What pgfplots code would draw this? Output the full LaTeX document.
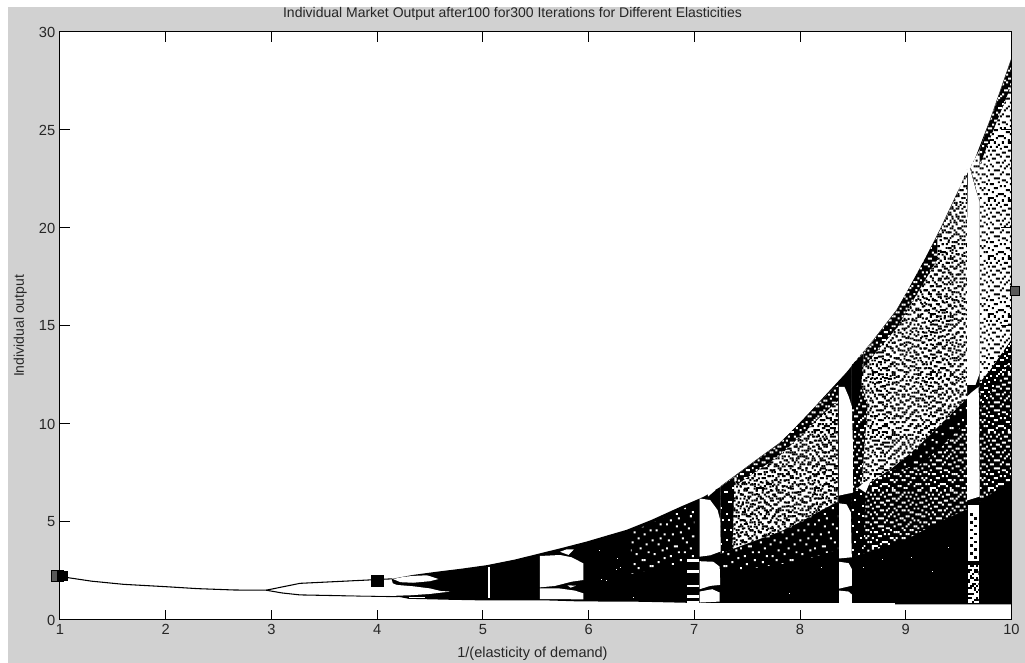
\documentclass[border=0pt]{standalone}
\usepackage{fontspec}
\setmainfont{Liberation Sans}
\usepackage{pgfplots}
\usepackage{pgfplotstable}
\usetikzlibrary{patterns}
\pgfplotsset{compat=1.18}
\definecolor{figgray}{gray}{0.82}
\newcommand\tile[1]{\foreach \r/\L in {#1}{\foreach \c in \L {\pgfpathrectangle{\pgfpoint{\c*1.5pt}{\r*1.5pt}}{\pgfqpoint{1.5pt}{1.5pt}}\pgfusepath{fill}}}}
\pgfdeclarepatternformonly{speckA}{\pgfpointorigin}{\pgfqpoint{43.5pt}{43.5pt}}{\pgfqpoint{43.5pt}{43.5pt}}{\tile{0/{1,2,3,11,17,18,26},1/{5,9,14,15,22},2/{0,6,7,8,19,23,24,25,28},3/{3,12,20},4/{1,10,11,13,16,17,27},5/{4,5,21,22,26,28},6/{7,9,15,18,19},7/{0,2,3,12,13,14,23,25},8/{6,10,17,20,21,27,28},9/{1,8,9,16,24},10/{4,5,6,12,18,22,23,26},11/{0,14,15,19},12/{2,3,7,10,11,20,25,27,28},13/{8,13,17,22,24},14/{1,4,5,6,15,16,21},15/{9,12,18,19,26,27},16/{0,3,7,10,14,23,24,25},17/{2,11,20,21,28},18/{5,6,8,13,16,17,19,26},19/{1,9,12,22,24},20/{3,4,14,15,18,27,28},21/{0,7,10,11,20,23},22/{2,5,6,16,17,21,25,26},23/{8,9,13,19,28},24/{1,3,4,11,12,14,22,24},25/{7,15,18,20,26,27},26/{0,2,5,9,10,16,23},27/{6,13,14,17,19,21,28},28/{1,4,8,11,12,24,25}}}
\pgfdeclarepatternformonly{speckB}{\pgfpointorigin}{\pgfqpoint{34.5pt}{34.5pt}}{\pgfqpoint{34.5pt}{34.5pt}}{\tile{0/{4,5,13,20},1/{0,9,16,17},2/{2,3,7,11,21},3/{14,18},4/{1,5,6,10,19,22},5/{8,12,15},6/{3,4,16,20,21},7/{0,9,10,17},8/{6,13,14,18,22},9/{2,5,11},10/{7,8,15,16,19,20},11/{1,3,12,21},12/{5,9,10,14},13/{0,6,17,18,22},14/{4,11,12,15,20},15/{2,3,8,19},16/{6,7,13,16,21,22},17/{1,10,18},18/{4,5,9,14,15,20},19/{0,2,12,17},20/{7,8,11,19,21},21/{3,6,13,16,22},22/{1,9,10,15,18}}}
\pgfdeclarepatternformonly{speckC}{\pgfpointorigin}{\pgfqpoint{55.5pt}{55.5pt}}{\pgfqpoint{55.5pt}{55.5pt}}{\tile{0/{5,22,30},1/{13},2/{2,18,19,34},3/{9,27},4/{15,24,36},5/{1,6},6/{12,31,32},7/{20},8/{4,10,26,35},9/{17},10/{0,8,23},11/{14,29,30},12/{3,21},13/{11,33},14/{7,18,25,26},15/{36},16/{2,13,16},17/{22,31},18/{6,9,28},19/{19,35},20/{0,12,24},21/{4,5},22/{15,27,33},23/{10,20},24/{1,17,30},25/{8,23,34},26/{13,14},27/{3,26,36},28/{7,21},29/{16,29,32},30/{11},31/{5,19,25},32/{0,9,34},33/{14,22},34/{2,28,31},35/{6,18},36/{12,24,35}}}
\pgfplotsset{
 poly/.style={draw=none,fill=#1,forget plot},
 pat/.style 2 args={draw=none,pattern=#1,pattern color=#2,forget plot},
 dots/.style={only marks,mark=square*,mark size=0.6pt,mark options={draw=none,fill=#1},forget plot},
}
\pgfplotstableread{
7.25 3.4
7.4 3.7
7.59 4.08
7.81 4.51
8 5
8.2 5.6
8.36 6.05
8.36 12.0
8.2 11.2
8 10
7.81 9.02
7.59 8.16
7.4 7.4
7.25 6.8
}\zoneUa
\pgfplotstableread{
7.25 2.4
8 3.0
8.36 3.6
8.36 6.05
8.2 5.6
8 5
7.81 4.51
7.59 4.08
7.4 3.7
7.25 3.4
}\zoneMa
\pgfplotstableread{
8.49 6.5
8.7 7.15
8.915 7.9
9.1 8.75
9.326 9.95
9.58 11.3
9.58 23
9.5 21.9
9.326 19.9
9.1 17.5
8.915 15.8
8.7 14.3
8.49 13
}\zoneUb
\pgfplotstableread{
8.49 3.2
9 4.1
9.3 4.97
9.58 5.65
9.58 11.3
9.326 9.95
9.1 8.75
8.915 7.9
8.7 7.15
8.49 6.5
}\zoneMb
\pgfplotstableread{
9.7 12.1
9.8 12.75
10 14.3
10 28.6
9.8 25.5
9.7 24
9.61 23.1
9.7 21.3
}\zoneUc
\pgfplotstableread{
9.7 6.05
10 7.15
10 14.3
9.8 12.75
9.7 12.1
}\zoneMc
\pgfplotstableread{
6.4 2.35
6.87 2.89
7.0 3.05
7.0 5.95
6.87 5.6
6.6 4.95
6.4 4.5
}\zoneEarly
\pgfplotstableread{
8.85 7.65
9.1 8.75
9.326 9.95
9.58 11.3
9.58 10.2
9.35 8.9
9.1 7.8
}\stripMid
\pgfplotstableread{
9.7 12.1
9.8 12.75
10 14.3
10 13.4
9.85 12.0
9.72 10.8
}\stripMidc
\pgfplotstableread{
8.49 13
8.6 13.6
8.58 12
8.55 11
8.49 10.9
}\stripWedge
\pgfplotstableread{
8.49 6.5
8.58 6.8
8.64 11
8.58 12
8.49 10.9
}\stripLeftb
\pgfplotstableread{
8.49 3.2
8.6 3.4
8.62 6.9
8.49 6.5
}\stripLeftm
\pgfplotstableread{
8.6 13.6
8.915 15.8
9.3 19.6
9.3 18.4
8.915 14.9
8.6 12.9
}\stripTopb
\pgfplotstableread{
9.7 24
9.8 25.5
10 28.6
10 27.3
9.8 24.6
9.7 23.2
}\stripTopc
\pgfplotstableread{
7.4 7.4
7.81 9.02
8.2 11.2
8.36 12
8.36 11.2
8.2 10.4
7.81 8.4
7.4 6.9
}\stripTopa
\pgfplotstableread{
7.25 3.4
7.36 3.6
7.38 7.3
7.25 6.8
}\stripLeft
\pgfplotstableread{
9.59 0.85
9.59 2.8
9.69 2.8
9.69 0.85
}\winLow
\begin{document}
\begin{tikzpicture}
\useasboundingbox (-45pt,-32.25pt) rectangle (723.75pt,465pt);
\fill[white] (-45pt,-32.25pt) rectangle (723.75pt,465pt);
\fill[figgray] (-39pt,-32.25pt) rectangle (723.75pt,459.75pt);
\begin{axis}[
 at={(0pt,0pt)},anchor=origin,
 scale only axis,width=713.6pt,height=441pt,
 xmin=1,xmax=10,ymin=0,ymax=30,
 clip=false,axis on top,
 axis background/.style={fill=white},
 axis line style={line width=0.75pt},
 xtick={1,...,10},ytick={0,5,...,30},
 tick style={black,line width=0.75pt},
 major tick length=7.5pt,
 tick align=inside,
 xtick pos=both,ytick pos=both,
 xticklabel pos=lower,yticklabel pos=left,
 /pgf/number format/assume math mode=true,
 tick label style={font=\fontsize{11}{13}\selectfont,text=black!85},
 title={Individual Market Output after100 for300 Iterations for Different Elasticities},
 title style={font=\fontsize{10.5}{12}\selectfont,at={(axis description cs:0.4756,1)},anchor=base,yshift=4.5pt,text=black!85},
 xlabel={1/(elasticity of demand)},
 xlabel style={font=\fontsize{10.9}{13}\selectfont,at={(axis description cs:0.4966,0)},anchor=base,yshift=-28.25pt,text=black!85},
 ylabel={Individual output},
 ylabel style={font=\fontsize{10.5}{12}\selectfont,at={(axis description cs:0,0.5)},anchor=base,yshift=27pt,text=black!85},
]
% period-1 and period-2 lines
\addplot[black,line width=0.8pt,forget plot] coordinates {(1,2.22)(1.3,1.98)(1.6,1.82)(2,1.70)(2.3,1.6)(2.65,1.53)(2.95,1.52)(3.27,1.87)(3.65,1.97)(4.14,2.1)};
\addplot[black,line width=0.8pt,forget plot] coordinates {(2.95,1.52)(3.1,1.38)(3.27,1.28)(3.65,1.24)(4.2,1.19)};
% chaotic envelope, solid
\addplot[poly=black] coordinates {(4.14,2.1)(4.34,2.3)(4.56,2.46)(4.8,2.62)(5.04,2.8)(5.3,3.08)(5.54,3.4)(5.75,3.68)(5.98,4)(6.2,4.35)(6.36,4.6)(6.6,5.12)(6.87,5.78)(7.09,6.29)(7.25,6.8)(7.4,7.4)(7.59,8.16)(7.81,9.02)(8,10)(8.2,11.2)(8.44,12.6)(8.7,14.3)(8.915,15.8)(9.1,17.5)(9.326,19.9)(9.5,21.9)(9.65,23.4)(9.8,25.5)(10,28.6)(10,0.8)(8.9,0.8)(8.9,0.87)(7,0.87)(6.5,0.93)(5.9,0.95)(5.6,1.0)(5.0,1.0)(4.7,1.03)(4.3,1.08)(4.185,1.2)(4.14,2.03)};
\addplot[black,line width=0.75pt,forget plot] coordinates {(7.25,6.8)(7.4,7.4)(7.59,8.16)(7.81,9.02)(8,10)(8.2,11.2)(8.44,12.6)(8.7,14.3)(8.915,15.8)(9.1,17.5)(9.326,19.9)(9.5,21.9)(9.65,23.4)(9.8,25.5)(10,28.6)};
% white lobes of the doubling cascade
\addplot[poly=white] coordinates {(3.65,1.93)(4.1,1.97)(4.185,1.79)(4.34,1.72)(4.5,1.61)(4.6,1.48)(4.69,1.45)(4.5,1.33)(4.31,1.26)(4.185,1.24)(3.65,1.27)};
\addplot[poly=white] coordinates {(4.15,2.09)(4.25,2.2)(4.34,2.25)(4.47,2.28)(4.52,2.2)(4.58,2.09)(4.5,1.98)(4.34,1.9)(4.22,1.93)};
\addplot[poly=white] coordinates {(4.3,1.17)(4.45,1.17)(4.45,1.12)(4.3,1.12)};
% speckled zones
\addplot[pat={speckC}{white}] table {\zoneEarly};
\addplot[pat={speckC}{white}] table {\zoneMa};
\addplot[poly=white] table {\zoneUa};
\addplot[pat={speckA}{black}] table {\zoneUa};
\addplot[pat={speckB}{black}] table {\zoneUa};
\addplot[pat={speckC}{black}] table {\zoneUa};
\addplot[pat={speckA}{white}] table {\zoneMb};
\addplot[poly=white] table {\zoneUb};
\addplot[pat={speckA}{black}] table {\zoneUb};
\addplot[pat={speckB}{black}] table {\zoneUb};
\addplot[pat={speckA}{white}] table {\zoneMc};
\addplot[poly=white] table {\zoneUc};
\addplot[pat={speckA}{black}] table {\zoneUc};
% darker strips
\addplot[poly=black] table {\stripMid};
\addplot[pat={speckC}{white}] table {\stripMid};
\addplot[poly=black] table {\stripMidc};
\addplot[pat={speckB}{white}] table {\stripMidc};
\addplot[poly=black] table {\stripLeftb};
\addplot[pat={speckB}{white}] table {\stripLeftb};
\addplot[poly=black] table {\stripLeftm};
\addplot[pat={speckC}{white}] table {\stripLeftm};
\addplot[poly=black] table {\stripWedge};
\addplot[poly=black] table {\stripTopb};
\addplot[pat={speckB}{white}] table {\stripTopb};
\addplot[poly=black] table {\stripTopc};
\addplot[pat={speckB}{white}] table {\stripTopc};
\addplot[poly=black] table {\stripTopa};
\addplot[pat={speckB}{white}] table {\stripTopa};
\addplot[poly=black] table {\stripLeft};
\addplot[pat={speckC}{white}] table {\stripLeft};
% windows
\addplot[poly=white] coordinates {(5.54,3.265)(5.73,3.316)(5.84,3.197)(5.95,2.89)(5.95,2.04)(5.84,1.956)(5.68,1.735)(5.54,1.667)};
\addplot[poly=white] coordinates {(5.54,1.616)(5.715,1.616)(5.873,1.497)(5.95,1.36)(5.95,1.054)(5.54,1.07)};
\addplot[poly=white] coordinates {(5.73,3.48)(5.79,3.6)(5.86,3.6)(5.81,3.32)};
\addplot[poly=white] coordinates {(5.8,1.77)(5.88,1.75)(5.83,1.65)};
\addplot[poly=white] coordinates {(5.045,1.1)(5.065,1.1)(5.065,2.72)(5.045,2.72)};
\addplot[poly=white] coordinates {(7.05,3.23)(7.05,6.2)(7.15,6.12)(7.22,5.61)(7.245,5.1)(7.25,3.5)(7.15,3.3)};
\addplot[poly=white] coordinates {(7.13,6.3)(7.2,6.62)(7.12,6.62)};
\addplot[poly=white] coordinates {(7.05,1.57)(7.05,3.0)(7.18,2.97)(7.24,2.72)(7.245,1.79)(7.15,1.74)};
\addplot[poly=white] coordinates {(7.05,0.89)(7.05,1.45)(7.17,1.57)(7.24,1.4)(7.24,0.94)};
\addplot[poly=white] coordinates {(6.93,2.95)(7.04,2.95)(7.04,3.09)(6.93,3.09)};
\addplot[poly=white] coordinates {(6.93,2.4)(7.04,2.4)(7.04,2.55)(6.93,2.55)};
\addplot[poly=white] coordinates {(6.93,1.7)(7.04,1.7)(7.04,1.77)(6.93,1.77)};
\addplot[poly=white] coordinates {(6.93,1.1)(7.04,1.1)(7.04,1.3)(6.93,1.3)};
\addplot[poly=white] coordinates {(6.93,0.87)(7.04,0.87)(7.04,0.95)(6.93,0.95)};
\addplot[poly=white] coordinates {(8.37,6.35)(8.37,11.9)(8.42,11.9)(8.46,11.4)(8.49,10.9)(8.5,9)(8.5,6.5)};
\addplot[poly=white] coordinates {(8.55,6.75)(8.6,7.0)(8.67,7.15)(8.62,6.5)};
\addplot[poly=white] coordinates {(8.37,3.14)(8.37,5.95)(8.44,5.9)(8.48,5.5)(8.49,3.2)};
\addplot[poly=white] coordinates {(8.37,1.6)(8.37,2.97)(8.46,2.9)(8.49,2.6)(8.49,1.75)};
\addplot[poly=white] coordinates {(8.37,0.87)(8.37,1.5)(8.46,1.45)(8.49,1.3)(8.49,0.87)};
\addplot[poly=white] coordinates {(9.58,12.0)(9.58,20)(9.59,23)(9.61,23)(9.66,22)(9.7,21.3)(9.7,12.6)(9.66,12.0)};
\addplot[poly=white] coordinates {(9.58,6.1)(9.58,11.4)(9.62,11.6)(9.69,11.9)(9.7,6.3)};
\addplot[poly=white] coordinates {(9.59,3)(9.59,5.87)(9.69,5.87)(9.69,3)};
\addplot[poly=white] table {\winLow};
\addplot[pat={speckA}{black}] table {\winLow};
\addplot[pat={speckB}{black}] table {\winLow};
% white specks
\addplot[dots=white] table[row sep=crcr]{6.0 2.1\\6.03 2.15\\6.06 2.05\\6.09 2.2\\6.12 2.08\\6.17 2.04\\6.2 2.04\\6.22 3.3\\6.27 3.15\\6.2 2.6\\6.26 2.58\\6.3 2.7\\6.1 3.55\\4.73 2.4\\4.73 2.2\\4.73 2.0\\4.73 1.8\\4.73 1.6\\5.3 2.62\\5.47 1.9\\6.37 4.4\\6.37 4.2\\6.37 4.0\\6.37 3.8\\6.37 3.6\\6.37 3.4\\6.37 3.2\\6.37 3.0\\6.37 2.8\\6.37 2.55\\6.37 2.3\\6.37 1.9\\6.37 1.6\\6.37 1.3\\6.42 1.15\\
7.28 2.1\\7.34 1.8\\7.42 2.2\\7.53 2.25\\7.62 1.9\\7.8 1.5\\7.9 2.1\\8.05 2.35\\8.2 2.7\\7.4 1.55\\7.33 1.9\\7.9 1.35\\7.75 2.2\\8.65 2.1\\8.8 1.3\\8.9 2.4\\9.05 3.2\\9.2 3.9\\9.35 4.4\\9.5 3.2\\9.8 4.9\\9.9 3.5\\9.75 1.7\\9.95 2.3\\8.7 1.9\\9.15 1.3\\9.0 2.9\\9.4 3.7\\8.6 2.7\\8.78 3.1\\9.25 2.5\\9.85 4.2\\};
% black specks in the window
\addplot[dots=black] table[row sep=crcr]{9.62 5.4\\9.62 5.0\\9.62 4.6\\9.62 4.2\\9.62 3.8\\9.62 3.4\\9.66 5.2\\9.66 4.8\\9.66 4.4\\9.66 4.0\\9.66 3.6\\9.66 3.2\\};
% handles
\addplot[only marks,mark=square*,mark size=4.2pt,mark options={draw=none,fill=black!65},forget plot] coordinates {(0.975,2.25)};
\addplot[only marks,mark=square*,mark size=3.6pt,mark options={draw=none,fill=black},forget plot] coordinates {(1.02,2.25)};
\addplot[only marks,mark=square*,mark size=4.3pt,mark options={draw=none,fill=black},forget plot] coordinates {(4,2)};
\addplot[only marks,mark=square*,mark size=4.3pt,mark options={draw=none,fill=white,yscale=0.12},forget plot] coordinates {(4,2)};
\addplot[only marks,mark=square*,mark size=3.4pt,mark options={draw=none,fill=black!65},forget plot] coordinates {(10.03,16.8)};
\end{axis}
\end{tikzpicture}
\end{document}
